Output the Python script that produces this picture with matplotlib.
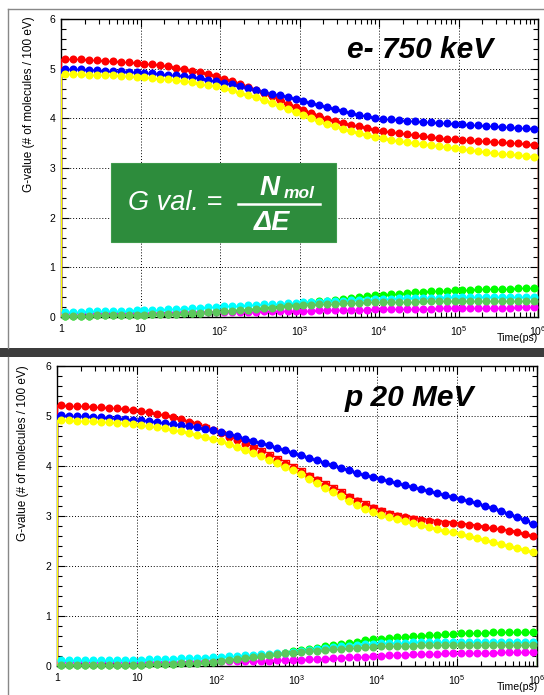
import numpy as np
import matplotlib
matplotlib.use('Agg')
import matplotlib.pyplot as plt
from matplotlib.ticker import MultipleLocator, FixedLocator, LogLocator, NullFormatter, FuncFormatter
from matplotlib.lines import Line2D
from matplotlib.patches import Rectangle

plt.rcParams['font.family'] = 'Liberation Sans'
plt.rcParams['mathtext.fontset'] = 'custom'
plt.rcParams['mathtext.rm'] = 'Liberation Sans'
plt.rcParams['mathtext.it'] = 'Liberation Sans:italic'

W, H = 544, 695

# 60 log bins from 1 ps to 1e6 ps
edges = np.logspace(0, 6, 61)
centers = np.sqrt(edges[:-1] * edges[1:])
decades = [1, 10, 1e2, 1e3, 1e4, 1e5, 1e6]

# ---- e- 750 keV ----
red_e = [5.20, 5.19, 5.19, 5.18, 5.17, 5.16, 5.15, 5.14, 5.13, 5.12,
         5.10, 5.09, 5.07, 5.05, 5.02, 4.99, 4.96, 4.93, 4.89, 4.85,
         4.80, 4.75, 4.70, 4.64, 4.58, 4.51, 4.44, 4.37, 4.29, 4.22,
         4.16, 4.10, 4.04, 3.99, 3.95, 3.91, 3.87, 3.84, 3.80, 3.77,
         3.74, 3.72, 3.70, 3.68, 3.66, 3.64, 3.62, 3.61, 3.59, 3.58,
         3.57, 3.56, 3.55, 3.54, 3.53, 3.52, 3.51, 3.50, 3.49, 3.47]
blue_e = [5.00, 4.99, 4.99, 4.98, 4.97, 4.96, 4.96, 4.95, 4.94, 4.93,
          4.92, 4.91, 4.90, 4.88, 4.87, 4.85, 4.83, 4.81, 4.78, 4.75,
          4.72, 4.69, 4.65, 4.62, 4.58, 4.54, 4.50, 4.46, 4.42, 4.38,
          4.34, 4.30, 4.26, 4.22, 4.18, 4.14, 4.10, 4.07, 4.04, 4.01,
          3.99, 3.98, 3.96, 3.95, 3.94, 3.93, 3.92, 3.91, 3.90, 3.89,
          3.88, 3.87, 3.86, 3.85, 3.84, 3.83, 3.82, 3.81, 3.80, 3.79]
yellow_e = [4.90, 4.89, 4.89, 4.88, 4.88, 4.87, 4.87, 4.86, 4.85, 4.84,
            4.83, 4.82, 4.80, 4.79, 4.77, 4.75, 4.73, 4.70, 4.68, 4.65,
            4.61, 4.57, 4.52, 4.47, 4.42, 4.36, 4.30, 4.24, 4.18, 4.12,
            4.06, 4.00, 3.94, 3.89, 3.84, 3.79, 3.75, 3.71, 3.67, 3.63,
            3.60, 3.57, 3.54, 3.52, 3.50, 3.48, 3.46, 3.44, 3.42, 3.40,
            3.38, 3.36, 3.34, 3.33, 3.31, 3.29, 3.28, 3.26, 3.24, 3.22]
lime_e = [0.03, 0.03, 0.03, 0.03, 0.04, 0.04, 0.04, 0.04, 0.05, 0.05,
          0.05, 0.06, 0.06, 0.07, 0.07, 0.08, 0.08, 0.09, 0.10, 0.11,
          0.12, 0.13, 0.14, 0.15, 0.16, 0.18, 0.20, 0.22, 0.24, 0.26,
          0.28, 0.30, 0.32, 0.33, 0.35, 0.37, 0.39, 0.40, 0.42, 0.44,
          0.45, 0.46, 0.47, 0.48, 0.50, 0.51, 0.52, 0.52, 0.53, 0.54,
          0.55, 0.55, 0.56, 0.56, 0.57, 0.57, 0.57, 0.58, 0.58, 0.58]
green_e = [0.03, 0.03, 0.03, 0.03, 0.04, 0.04, 0.04, 0.04, 0.05, 0.05,
           0.05, 0.06, 0.06, 0.07, 0.07, 0.08, 0.08, 0.09, 0.10, 0.11,
           0.12, 0.13, 0.14, 0.15, 0.16, 0.18, 0.19, 0.20, 0.22, 0.23,
           0.24, 0.25, 0.26, 0.27, 0.27, 0.28, 0.29, 0.29, 0.30, 0.30,
           0.31, 0.31, 0.31, 0.31, 0.31, 0.32, 0.32, 0.32, 0.32, 0.32,
           0.32, 0.32, 0.32, 0.32, 0.32, 0.32, 0.32, 0.32, 0.32, 0.32]
cyan_e = [0.11, 0.11, 0.11, 0.12, 0.12, 0.12, 0.13, 0.13, 0.13, 0.14,
          0.14, 0.15, 0.15, 0.16, 0.17, 0.17, 0.18, 0.19, 0.20, 0.21,
          0.22, 0.22, 0.23, 0.24, 0.25, 0.26, 0.26, 0.27, 0.28, 0.29,
          0.30, 0.30, 0.31, 0.32, 0.33, 0.33, 0.34, 0.35, 0.35, 0.36,
          0.37, 0.37, 0.38, 0.38, 0.38, 0.39, 0.39, 0.39, 0.40, 0.40,
          0.40, 0.40, 0.40, 0.40, 0.41, 0.41, 0.41, 0.41, 0.41, 0.41]
magenta_e = [0.09, 0.09, 0.09, 0.09, 0.09, 0.09, 0.09, 0.09, 0.09, 0.09,
             0.09, 0.09, 0.09, 0.09, 0.10, 0.10, 0.10, 0.10, 0.10, 0.10,
             0.10, 0.11, 0.11, 0.11, 0.11, 0.12, 0.12, 0.12, 0.13, 0.13,
             0.13, 0.13, 0.14, 0.14, 0.14, 0.14, 0.15, 0.15, 0.15, 0.16,
             0.16, 0.16, 0.16, 0.17, 0.17, 0.17, 0.17, 0.18, 0.18, 0.18,
             0.18, 0.18, 0.19, 0.19, 0.19, 0.19, 0.19, 0.20, 0.20, 0.20]

# ---- p 20 MeV ----
red_p = [5.22, 5.21, 5.21, 5.20, 5.19, 5.18, 5.17, 5.16, 5.14, 5.12,
         5.10, 5.08, 5.05, 5.02, 4.98, 4.94, 4.89, 4.84, 4.78, 4.72,
         4.66, 4.59, 4.52, 4.45, 4.37, 4.29, 4.21, 4.13, 4.05, 3.97,
         3.89, 3.80, 3.72, 3.63, 3.55, 3.47, 3.38, 3.30, 3.23, 3.16,
         3.10, 3.05, 3.01, 2.98, 2.95, 2.93, 2.91, 2.89, 2.87, 2.86,
         2.84, 2.82, 2.80, 2.78, 2.76, 2.74, 2.71, 2.68, 2.64, 2.60]
red_line_p = [5.22, 5.21, 5.21, 5.20, 5.19, 5.18, 5.17, 5.16, 5.14, 5.12,
              5.10, 5.08, 5.05, 5.02, 4.99, 4.95, 4.91, 4.87, 4.82, 4.77,
              4.70, 4.63, 4.57, 4.50, 4.43, 4.36, 4.28, 4.20, 4.12, 4.04,
              3.96, 3.87, 3.79, 3.70, 3.62, 3.54, 3.45, 3.37, 3.30, 3.23,
              3.17, 3.11, 3.06, 3.03, 3.00, 2.97, 2.94, 2.92, 2.90, 2.88,
              2.86, 2.84, 2.82, 2.79, 2.77, 2.75, 2.72, 2.69, 2.65, 2.61]
blue_p = [5.02, 5.01, 5.01, 5.00, 4.99, 4.98, 4.97, 4.96, 4.95, 4.93,
          4.92, 4.91, 4.89, 4.87, 4.85, 4.83, 4.81, 4.78, 4.75, 4.72,
          4.68, 4.64, 4.60, 4.55, 4.51, 4.46, 4.42, 4.37, 4.32, 4.27,
          4.22, 4.17, 4.12, 4.07, 4.02, 3.97, 3.92, 3.87, 3.82, 3.78,
          3.74, 3.70, 3.66, 3.62, 3.58, 3.54, 3.50, 3.46, 3.42, 3.38,
          3.34, 3.30, 3.26, 3.21, 3.16, 3.11, 3.05, 2.99, 2.92, 2.85]
yellow_p = [4.92, 4.92, 4.91, 4.91, 4.90, 4.89, 4.88, 4.87, 4.86, 4.85,
            4.83, 4.81, 4.79, 4.76, 4.73, 4.70, 4.67, 4.63, 4.59, 4.55,
            4.50, 4.44, 4.38, 4.32, 4.26, 4.20, 4.13, 4.06, 3.99, 3.92,
            3.84, 3.75, 3.66, 3.57, 3.49, 3.40, 3.31, 3.23, 3.15, 3.08,
            3.03, 2.98, 2.94, 2.90, 2.86, 2.82, 2.78, 2.75, 2.71, 2.68,
            2.64, 2.60, 2.57, 2.53, 2.49, 2.45, 2.41, 2.37, 2.33, 2.28]
lime_p = [0.02, 0.02, 0.02, 0.02, 0.02, 0.02, 0.03, 0.03, 0.03, 0.03,
          0.03, 0.04, 0.04, 0.05, 0.05, 0.06, 0.06, 0.07, 0.08, 0.09,
          0.10, 0.12, 0.14, 0.16, 0.18, 0.20, 0.23, 0.25, 0.27, 0.30,
          0.32, 0.35, 0.37, 0.40, 0.42, 0.44, 0.47, 0.49, 0.52, 0.54,
          0.55, 0.57, 0.58, 0.59, 0.60, 0.61, 0.62, 0.63, 0.64, 0.65,
          0.66, 0.66, 0.67, 0.67, 0.68, 0.68, 0.68, 0.69, 0.69, 0.69]
green_p = [0.02, 0.02, 0.02, 0.02, 0.02, 0.02, 0.03, 0.03, 0.03, 0.03,
           0.03, 0.04, 0.04, 0.05, 0.05, 0.06, 0.06, 0.07, 0.08, 0.09,
           0.10, 0.12, 0.14, 0.16, 0.18, 0.20, 0.22, 0.24, 0.26, 0.27,
           0.29, 0.30, 0.31, 0.33, 0.34, 0.35, 0.36, 0.37, 0.38, 0.39,
           0.40, 0.40, 0.41, 0.41, 0.41, 0.42, 0.42, 0.42, 0.42, 0.42,
           0.42, 0.42, 0.42, 0.42, 0.42, 0.42, 0.42, 0.42, 0.42, 0.42]
cyan_p = [0.12, 0.12, 0.12, 0.12, 0.12, 0.12, 0.13, 0.13, 0.13, 0.13,
          0.13, 0.14, 0.14, 0.15, 0.15, 0.16, 0.16, 0.17, 0.17, 0.18,
          0.19, 0.20, 0.21, 0.22, 0.23, 0.24, 0.25, 0.26, 0.27, 0.28,
          0.30, 0.32, 0.34, 0.36, 0.38, 0.40, 0.41, 0.43, 0.44, 0.45,
          0.46, 0.46, 0.47, 0.47, 0.48, 0.48, 0.48, 0.49, 0.49, 0.49,
          0.49, 0.49, 0.49, 0.49, 0.49, 0.49, 0.49, 0.49, 0.49, 0.49]
magenta_p = [0.08, 0.08, 0.08, 0.08, 0.08, 0.08, 0.08, 0.08, 0.08, 0.08,
             0.08, 0.08, 0.09, 0.09, 0.09, 0.09, 0.09, 0.10, 0.10, 0.10,
             0.10, 0.10, 0.11, 0.11, 0.11, 0.11, 0.11, 0.12, 0.12, 0.12,
             0.13, 0.14, 0.15, 0.15, 0.16, 0.17, 0.18, 0.18, 0.19, 0.20,
             0.21, 0.22, 0.22, 0.23, 0.24, 0.24, 0.25, 0.25, 0.26, 0.26,
             0.26, 0.27, 0.27, 0.27, 0.27, 0.28, 0.28, 0.28, 0.28, 0.28]

RED, BLUE, YELLOW = '#ff0000', '#0000ff', '#ffff00'
LIME, CYAN, MAGENTA, MGREEN = '#00ff00', '#00ffff', '#ff00ff', '#5cc85c'


def px(x, y):
    return x / W, 1 - y / H


def xfmt(v, pos):
    n = int(round(np.log10(v)))
    if n == 0:
        return '1'
    if n == 1:
        return '10'
    return r'$10^{%d}$' % n


def style(ax):
    ax.set_xscale('log')
    ax.set_xlim(1, 1e6)
    ax.set_ylim(0, 6)
    ax.yaxis.set_major_locator(MultipleLocator(1))
    ax.yaxis.set_minor_locator(MultipleLocator(0.2))
    ax.xaxis.set_major_locator(FixedLocator(decades))
    ax.xaxis.set_minor_locator(LogLocator(base=10, subs=np.arange(2, 10), numticks=20))
    ax.xaxis.set_major_formatter(FuncFormatter(xfmt))
    ax.xaxis.set_minor_formatter(NullFormatter())
    ax.tick_params(which='both', direction='in', top=True, right=True,
                   labelsize=7.5, width=0.8, color='black')
    ax.tick_params(axis='y', which='major', length=6, pad=4)
    ax.tick_params(axis='y', which='minor', length=3.5)
    ax.tick_params(axis='x', which='major', length=6, pad=5)
    ax.tick_params(axis='x', which='minor', length=3.5)
    ax.grid(True, which='major', color='black', linestyle=(0, (1, 2)), linewidth=0.7)
    for s in ax.spines.values():
        s.set_linewidth(1.0)


def panel(ax, series):
    for vals, col, line in series:
        ax.stairs(line if line is not None else vals, edges, baseline=0,
                  color=col, lw=1.0, zorder=3)
        ax.plot(centers, vals, 'o', ms=5.8, mew=0, color=col, zorder=4, clip_on=False)


fig = plt.figure(figsize=(W / 100, H / 100), dpi=100)

# top panel: e- 750 keV
x0, y0 = px(61, 317)
x1, y1 = px(538, 19)
ax1 = fig.add_axes([x0, y0, x1 - x0, y1 - y0])
style(ax1)
panel(ax1, [(red_e, RED, None), (blue_e, BLUE, None), (lime_e, LIME, None),
            (magenta_e, MAGENTA, None), (cyan_e, CYAN, None),
            (green_e, MGREEN, None), (yellow_e, YELLOW, None)])

# bottom panel: p 20 MeV
x0, y0 = px(57, 666)
x1, y1 = px(537, 366)
ax2 = fig.add_axes([x0, y0, x1 - x0, y1 - y0])
style(ax2)
panel(ax2, [(red_p, RED, red_line_p), (blue_p, BLUE, None), (lime_p, LIME, None),
            (magenta_p, MAGENTA, None), (cyan_p, CYAN, None),
            (green_p, MGREEN, None), (yellow_p, YELLOW, None)])

ylab = 'G-value (# of molecules / 100 eV)'
fig.text(*px(29, 16), ylab, rotation=90, ha='center', va='top', fontsize=8.5)
fig.text(*px(23, 365), ylab, rotation=90, ha='center', va='top', fontsize=8.5)
fig.text(*px(538, 338), 'Time(ps)', ha='right', va='center', fontsize=7.6)
fig.text(*px(538, 687), 'Time(ps)', ha='right', va='center', fontsize=7.6)

fig.text(*px(420, 50), 'e- 750 keV', ha='center', va='center', fontsize=21.5,
         fontweight='bold', fontstyle='italic')
fig.text(*px(409, 398), 'p 20 MeV', ha='center', va='center', fontsize=21.5,
         fontweight='bold', fontstyle='italic')

# green formula box
bx0, by0 = px(111, 242)
bx1, by1 = px(336, 163)
fig.add_artist(Rectangle((bx0, by0), bx1 - bx0, by1 - by0, transform=fig.transFigure,
                         facecolor='#2d8c3c', edgecolor='#3f9a4c', lw=0.8, zorder=5))
fig.text(*px(175, 203), 'G val. =', ha='center', va='center', fontsize=19.5,
         fontstyle='italic', color='white', zorder=6)
fig.text(*px(270, 188), 'N', ha='center', va='center', fontsize=20,
         fontstyle='italic', fontweight='bold', color='white', zorder=6)
fig.text(*px(299, 194), 'mol', ha='center', va='center', fontsize=12.5,
         fontstyle='italic', fontweight='bold', color='white', zorder=6)
fig.text(*px(272, 223), 'ΔE', ha='center', va='center', fontsize=19.5,
         fontstyle='italic', fontweight='bold', color='white', zorder=6)
lx0, ly = px(238, 204)
lx1, _ = px(320, 204)
fig.add_artist(Line2D([lx0, lx1], [ly, ly], transform=fig.transFigure,
                      color='white', lw=1.8, zorder=6))

# outer frames and separator band
fig.add_artist(Line2D([8 / W, 8 / W], [px(0, 348)[1], px(0, 9)[1]],
                      transform=fig.transFigure, color='#888888', lw=1.0))
fig.add_artist(Line2D([8 / W, 1], [px(0, 9)[1], px(0, 9)[1]],
                      transform=fig.transFigure, color='#888888', lw=1.0))
fig.add_artist(Line2D([8 / W, 8 / W], [0, px(0, 357)[1]],
                      transform=fig.transFigure, color='#888888', lw=1.0))
sx, sy = px(0, 357)
fig.add_artist(Rectangle((sx, sy), 1, 9 / H, transform=fig.transFigure,
                         facecolor='#3c3c3c', edgecolor='none'))

fig.savefig('out.png', dpi=100)
